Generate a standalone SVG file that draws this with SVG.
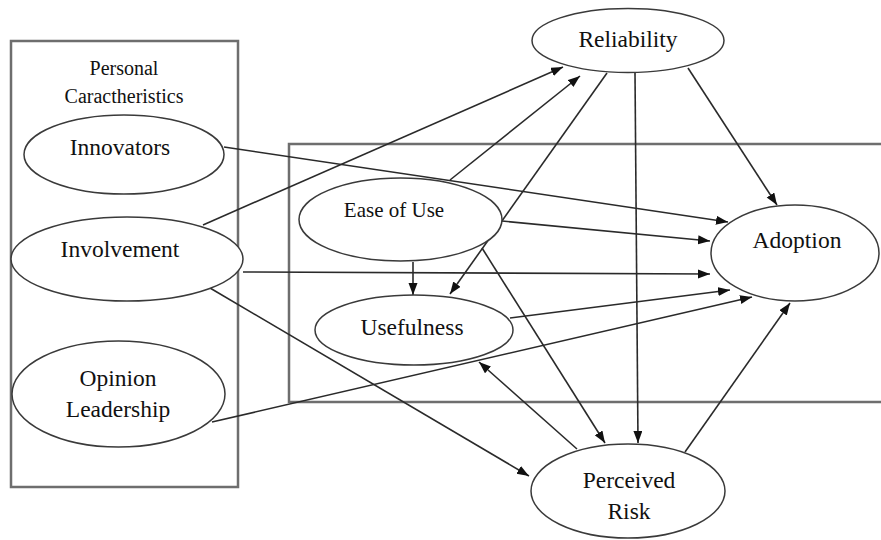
<svg xmlns="http://www.w3.org/2000/svg" width="881" height="540" viewBox="0 0 881 540">
  <style>
    .frame { fill: none; stroke: #6e6e6e; stroke-width: 2.5; }
    .node ellipse { fill: #ffffff; stroke: #3a3a3a; stroke-width: 1.5; }
    .label { font-family: "Liberation Serif", "Times New Roman", serif; font-size: 23.5px; fill: #111; text-anchor: middle; }
    .small { font-size: 21px; }
    .title { font-family: "Liberation Serif", "Times New Roman", serif; font-size: 20px; fill: #111; text-anchor: middle; }
    #connectors line { stroke: #2a2a2a; stroke-width: 1.6; marker-end: url(#head); }
  </style>
  <defs>
    <marker id="head" markerUnits="userSpaceOnUse" markerWidth="13" markerHeight="10" refX="12" refY="4.5" orient="auto">
      <path d="M0,0 L12,4.5 L0,9 Z" fill="#111"/>
    </marker>
  </defs>
  <rect width="881" height="540" fill="#ffffff"/>

  <!-- grouping frames -->
  <rect class="frame" x="11" y="41" width="227" height="446"/>
  <path class="frame" d="M885,144 L289,144 L289,402 L885,402"/>
  <text class="title" x="124" y="75">Personal</text>
  <text class="title" x="124" y="103">Caractheristics</text>

  <!-- connectors -->
  <g id="connectors">
    <line x1="224" y1="147" x2="728" y2="222"/>
    <line x1="203" y1="225" x2="563" y2="67"/>
    <line x1="450" y1="180" x2="580" y2="76"/>
    <line x1="607" y1="73" x2="450" y2="294"/>
    <line x1="635" y1="73" x2="638" y2="443"/>
    <line x1="688" y1="68" x2="777" y2="205"/>
    <line x1="413" y1="262" x2="413" y2="295"/>
    <line x1="482" y1="248" x2="605" y2="443"/>
    <line x1="210" y1="288" x2="529" y2="476"/>
    <line x1="577" y1="449" x2="479" y2="362"/>
    <line x1="685" y1="452" x2="790" y2="303"/>
    <line x1="502" y1="221" x2="710" y2="241"/>
    <line x1="243" y1="272" x2="710" y2="274"/>
    <line x1="510" y1="318" x2="730" y2="290"/>
    <line x1="212" y1="422" x2="752" y2="297"/>
  </g>

  <!-- nodes -->
  <g id="innovators" class="node">
    <ellipse cx="124" cy="154.5" rx="100" ry="39.5"/>
    <text class="label" x="120" y="155">Innovators</text>
  </g>
  <g id="involvement" class="node">
    <ellipse cx="127" cy="259" rx="116" ry="42"/>
    <text class="label" x="120" y="257">Involvement</text>
  </g>
  <g id="opinion-leadership" class="node">
    <ellipse cx="118.5" cy="394" rx="106.5" ry="53"/>
    <text class="label" x="118" y="386">Opinion</text>
    <text class="label" x="118" y="417">Leadership</text>
  </g>
  <g id="reliability" class="node">
    <ellipse cx="628" cy="40.5" rx="96" ry="32"/>
    <text class="label" x="628" y="47">Reliability</text>
  </g>
  <g id="ease-of-use" class="node">
    <ellipse cx="400.5" cy="219.5" rx="101.5" ry="41.5"/>
    <text class="label small" x="394" y="217">Ease of Use</text>
  </g>
  <g id="usefulness" class="node">
    <ellipse cx="414" cy="330" rx="99" ry="35"/>
    <text class="label" x="412" y="335">Usefulness</text>
  </g>
  <g id="adoption" class="node">
    <ellipse cx="795" cy="253" rx="84" ry="48"/>
    <text class="label" x="797" y="248">Adoption</text>
  </g>
  <g id="perceived-risk" class="node">
    <ellipse cx="628" cy="491" rx="97" ry="47"/>
    <text class="label" x="629" y="488">Perceived</text>
    <text class="label" x="629" y="519">Risk</text>
  </g>
</svg>
